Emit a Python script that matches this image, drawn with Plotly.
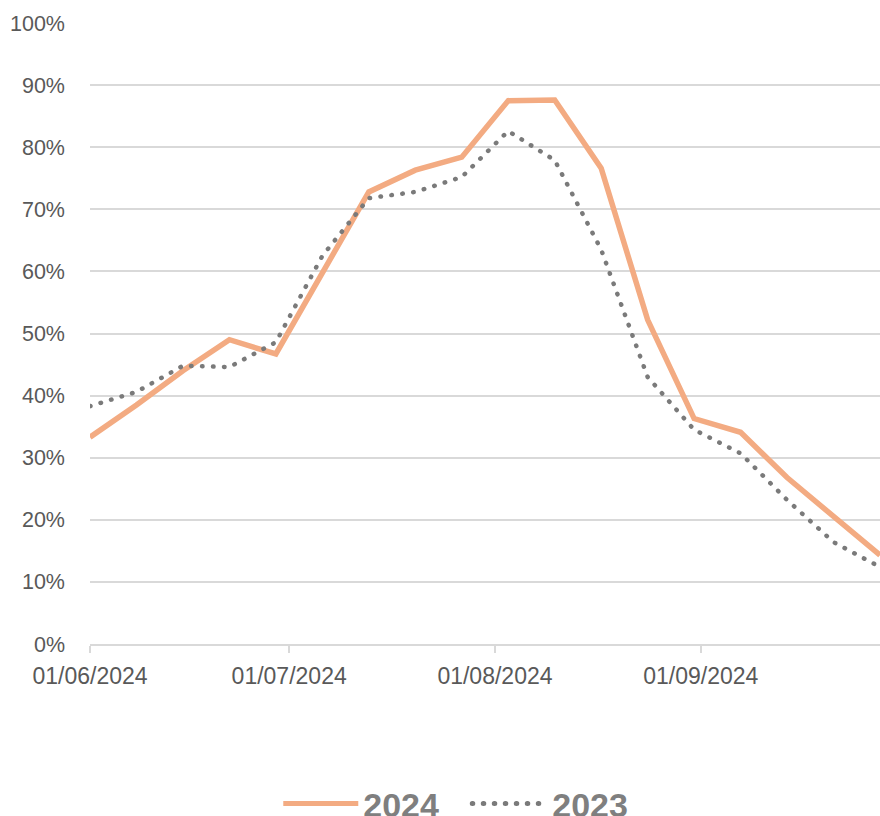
import plotly.graph_objects as go

dates = ["2024-06-01", "2024-06-08", "2024-06-15", "2024-06-22", "2024-06-29",
         "2024-07-06", "2024-07-13", "2024-07-20", "2024-07-27", "2024-08-03",
         "2024-08-10", "2024-08-17", "2024-08-24", "2024-08-31", "2024-09-07",
         "2024-09-14", "2024-09-21", "2024-09-28"]
y2024 = [0.333, 0.385, 0.440, 0.490, 0.467, 0.598, 0.728, 0.763, 0.784, 0.875,
         0.876, 0.766, 0.522, 0.363, 0.341, 0.268, 0.205, 0.143]
y2023 = [0.383, 0.406, 0.448, 0.446, 0.486, 0.625, 0.718, 0.728, 0.752, 0.826,
         0.779, 0.635, 0.430, 0.345, 0.307, 0.232, 0.164, 0.124]

tick_vals = ["2024-06-01", "2024-07-01", "2024-08-01", "2024-09-01"]
tick_text = ["01/06/2024", "01/07/2024", "01/08/2024", "01/09/2024"]

FONT = "Liberation Sans, Arial, sans-serif"

fig = go.Figure()
fig.add_trace(go.Scatter(x=dates, y=y2024, mode="lines", name="2024",
                         line=dict(color="#F3AB82", width=5.5)))
fig.add_trace(go.Scatter(x=dates, y=y2023, mode="lines", name="2023",
                         line=dict(color="#7A7A7A", width=4.5, dash="0.5px,10.5px")))

fig.update_layout(
    width=880, height=816,
    margin=dict(l=90, r=0, t=23, b=172, autoexpand=False),
    paper_bgcolor="white", plot_bgcolor="white",
    font=dict(family=FONT, color="#595959", size=21),
    showlegend=True,
    legend=dict(orientation="h", xref="container", yref="container",
                x=0.531, y=0.0147, xanchor="center", yanchor="middle",
                font=dict(size=34, color="#7F7F7F", family=FONT, weight="bold"),
                itemwidth=75, tracegroupgap=0, itemsizing="constant",
                entrywidth=99, entrywidthmode="pixels"),
    xaxis=dict(type="date", range=["2024-06-01", "2024-09-28"],
               tickmode="array", tickvals=tick_vals, ticktext=tick_text,
               showgrid=False, showline=True, linecolor="#D9D9D9", linewidth=1.5,
               ticks="outside", ticklen=7, tickcolor="#D9D9D9", tickwidth=1.5,
               ticklabelstandoff=4, automargin=False,
               tickfont=dict(size=23, color="#595959"), zeroline=False),
    yaxis=dict(range=[0, 1], tickvals=[i / 10 for i in range(11)],
               tickformat=".0%", showgrid=True, gridcolor="#D9D9D9", gridwidth=1.5,
               zeroline=False, showline=False, ticks="", ticklabelstandoff=24,
               automargin=False,
               tickfont=dict(size=21.5, color="#595959")),
)

post = (
    "document.body.style.margin='0';document.body.style.overflow='hidden';"
    "document.querySelectorAll('.scatterlayer .trace:nth-child(2) path.js-line')"
    ".forEach(function(p){p.style.strokeLinecap='round';});"
    "document.querySelectorAll('.legend .traces:nth-child(2) path.js-line')"
    ".forEach(function(p){p.style.strokeLinecap='round';});"
)
fig.write_html("out.html", post_script=post, config={"displayModeBar": False})
